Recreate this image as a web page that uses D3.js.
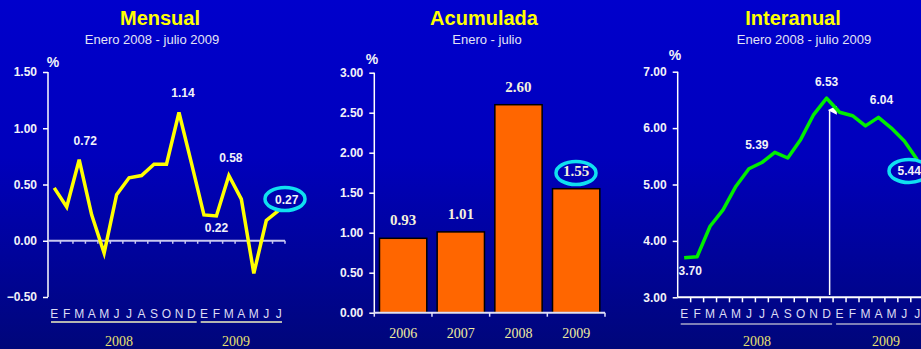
<!DOCTYPE html>
<html><head><meta charset="utf-8">
<script src="https://cdn.jsdelivr.net/npm/d3@7"></script>
<style>
html,body{margin:0;padding:0;background:#0000c0;}
svg{display:block;}
</style></head>
<body>
<svg id="c" width="921" height="349" font-family="Arial,'Liberation Sans',sans-serif"></svg>
<script>
// ---------- data ----------
const months = ["E","F","M","A","M","J","J","A","S","O","N","D","E","F","M","A","M","J","J"];
const mensual = [0.47,0.30,0.72,0.23,-0.11,0.41,0.56,0.58,0.68,0.68,1.14,0.69,0.23,0.22,0.58,0.37,-0.29,0.18,0.27];
const interanual = [3.70,3.72,4.26,4.55,4.97,5.28,5.39,5.57,5.47,5.80,6.24,6.53,6.28,6.22,6.04,6.19,6.00,5.77,5.44];
const accYears = ["2006","2007","2008","2009"];
const acumulada = [0.93,1.01,2.60,1.55];
const mensualTicks = [-0.5,0,0.5,1.0,1.5];
const acumTicks = [0,0.5,1.0,1.5,2.0,2.5,3.0];
const interTicks = [3,4,5,6,7];
const yearLabels = ["2008","2009"];
const mensualLabels = [{i:2,t:"0.72"},{i:10,t:"1.14"},{i:14,t:"0.58"},{i:13,t:"0.22"},{i:18,t:"0.27"}];
const interLabels = [{i:0,t:"3.70"},{i:6,t:"5.39"},{i:11,t:"6.53"},{i:15,t:"6.04"},{i:18,t:"5.44"}];

const SERIF = "'Liberation Serif','Times New Roman',serif";
const svg = d3.select("#c");
const defs = svg.append("defs");
const g = defs.append("linearGradient").attr("id","bg").attr("x1",0).attr("y1",0).attr("x2",0).attr("y2",1);
g.append("stop").attr("offset","0%").attr("stop-color","#0000cc");
g.append("stop").attr("offset","45%").attr("stop-color","#0000bc");
g.append("stop").attr("offset","100%").attr("stop-color","#00067a");
defs.append("marker").attr("id","arr").attr("viewBox","0 0 10 10").attr("refX",5).attr("refY",2)
  .attr("markerWidth",6).attr("markerHeight",6).attr("orient","auto-start-reverse")
  .append("path").attr("d","M0,10 L5,0 L10,10 Z").attr("fill","#ffffff");
svg.append("rect").attr("width",921).attr("height",349).attr("fill","url(#bg)");

const WHITE="#f2f2f8", LAV="#c8c8f0", YEL="#ffff00", YRCOL="#e8e070", CYAN="#10e0f0";

function titles(cx, title, sub, scx){
  svg.append("text").attr("x",cx).attr("y",25).attr("text-anchor","middle")
    .attr("font-size",20).attr("font-weight","bold").attr("fill",YEL).text(title);
  svg.append("text").attr("x",scx).attr("y",44).attr("text-anchor","middle")
    .attr("font-size",13).attr("fill","#e4e4f4").text(sub);
}
function yAxis(x0, y, ticks, pctX, pctY){
  const ax = svg.append("g").attr("transform",`translate(${x0},0)`)
    .call(d3.axisLeft(y).tickValues(ticks).tickFormat(d3.format(".2f")).tickSize(5).tickPadding(6));
  ax.attr("font-family",null).attr("font-size",null);
  ax.select(".domain").attr("stroke","#ffffff").attr("stroke-width",1.5).attr("d",`M0,${y.range()[0]}V${y.range()[1]}`);
  ax.selectAll(".tick line").attr("stroke","#ffffff").attr("stroke-width",1.5);
  ax.selectAll(".tick text").attr("fill",WHITE).attr("font-size",12).attr("font-weight","bold");
  svg.append("text").attr("x",pctX).attr("y",pctY).attr("text-anchor","middle")
    .attr("font-size",14).attr("font-weight","bold").attr("fill",WHITE).text("%");
}
function monthAxis(x, yLine, lineColor, tickLen, underline, ulColor, yrX){
  const r = x.range();
  svg.append("line").attr("x1",r[0]).attr("x2",r[1]).attr("y1",yLine).attr("y2",yLine)
    .attr("stroke",lineColor).attr("stroke-width",2);
  const bounds = d3.range(1, months.length+1).map(i => i<months.length ? x(i) : r[1]);
  svg.selectAll(null).data(bounds).enter().append("line")
    .attr("x1",d=>d).attr("x2",d=>d).attr("y1",yLine).attr("y2",yLine+tickLen)
    .attr("stroke",lineColor).attr("stroke-width",1.5);
  svg.selectAll(null).data(months).enter().append("text")
    .attr("x",(d,i)=>x(i)+x.bandwidth()/2).attr("y",318).attr("text-anchor","middle")
    .attr("font-size",12).attr("fill","#dcdcf4").text(d=>d);
  svg.append("line").attr("x1",x(0)+3).attr("x2",x(11)+x.bandwidth()-1).attr("y1",underline).attr("y2",underline)
    .attr("stroke",ulColor).attr("stroke-width",1.5);
  svg.append("line").attr("x1",x(12)+3).attr("x2",Math.min(921,x(18)+x.bandwidth()-3)).attr("y1",underline).attr("y2",underline)
    .attr("stroke",ulColor).attr("stroke-width",1.5);
  yearLabels.forEach((t,k)=>{
    svg.append("text").attr("x",yrX[k]).attr("y",346).attr("text-anchor","middle")
      .attr("font-family",SERIF).attr("font-size",14)
      .attr("fill",YRCOL).text(t);
  });
}
function ellipse(cx,cy){
  svg.append("ellipse").attr("cx",cx).attr("cy",cy).attr("rx",20).attr("ry",11.5)
    .attr("fill","none").attr("stroke",CYAN).attr("stroke-width",3.5);
}

// ---------- Panel 1: Mensual ----------
{
  const x = d3.scaleBand().domain(d3.range(months.length)).range([48,285]);
  const y = d3.scaleLinear().domain([-0.5,1.5]).range([297,72]);
  titles(160,"Mensual","Enero 2008 - julio 2009",152);
  yAxis(48,y,mensualTicks,53,67);
  monthAxis(x, y(0), LAV, 3, 322, "#f0f0c0", [119,236]);
  const line = d3.line().x((d,i)=>x(i)+x.bandwidth()/2).y(d=>y(d));
  svg.append("path").datum(mensual).attr("d",line).attr("fill","none")
    .attr("stroke",YEL).attr("stroke-width",3.5).attr("stroke-linejoin","miter");
  ellipse(285,199);
  const off = {2:[6,-15],10:[4,-16],14:[2,-14],13:[0,16],18:[8,-6]};
  mensualLabels.forEach(l=>{
    const o = off[l.i];
    svg.append("text").attr("x",x(l.i)+x.bandwidth()/2+o[0]).attr("y",y(mensual[l.i])+o[1])
      .attr("text-anchor","middle").attr("font-size",12).attr("font-weight","bold")
      .attr("fill",WHITE).text(l.t);
  });
}

// ---------- Panel 2: Acumulada ----------
{
  const x = d3.scaleBand().domain(accYears).range([374.3,605]).paddingInner(0.18).paddingOuter(0.09);
  const y = d3.scaleLinear().domain([0,3]).range([312.7,72.7]);
  titles(484,"Acumulada","Enero - julio",487);
  yAxis(374.3,y,acumTicks,372,64);
  svg.selectAll(null).data(acumulada).enter().append("rect")
    .attr("x",(d,i)=>x(accYears[i])).attr("width",x.bandwidth())
    .attr("y",d=>y(d)).attr("height",d=>y(0)-y(d))
    .attr("fill","#ff6600").attr("stroke","#000000").attr("stroke-width",1.5);
  svg.append("line").attr("x1",374.3).attr("x2",605).attr("y1",y(0)).attr("y2",y(0))
    .attr("stroke","#e0e0f8").attr("stroke-width",2);
  const step = x.step();
  d3.range(5).forEach(i=>{
    const xx = 374.3 + i*step;
    svg.append("line").attr("x1",xx).attr("x2",xx).attr("y1",y(0)).attr("y2",y(0)+4)
      .attr("stroke","#e0e0f8").attr("stroke-width",1.5);
  });
  svg.selectAll(null).data(accYears).enter().append("text")
    .attr("x",d=>x(d)+x.bandwidth()/2).attr("y",338).attr("text-anchor","middle")
    .attr("font-family",SERIF).attr("font-size",14)
    .attr("fill","#f0eca0").text(d=>d);
  ellipse(576,173);
  svg.selectAll(null).data(acumulada).enter().append("text")
    .attr("x",(d,i)=>x(accYears[i])+x.bandwidth()/2).attr("y",d=>y(d)-13)
    .attr("text-anchor","middle").attr("font-family",SERIF)
    .attr("font-size",15).attr("font-weight","bold").attr("fill","#f4f0dc").text(d=>d.toFixed(2));
}

// ---------- Panel 3: Interanual ----------
{
  const x = d3.scaleBand().domain(d3.range(months.length)).range([677.7,677.7+19*12.95]);
  const y = d3.scaleLinear().domain([3,7]).range([297.3,71.7]);
  titles(793,"Interanual","Enero 2008 - julio 2009",804);
  yAxis(677.7,y,interTicks,675,60);
  monthAxis(x, y(3), "#ffffff", 5, 324, "#a8a8c8", [757,886]);
  const ax = x(11)+x.bandwidth()/2+3;
  svg.append("line").attr("x1",ax).attr("x2",ax).attr("y1",295).attr("y2",y(interanual[11])+12)
    .attr("stroke","#ffffff").attr("stroke-width",1.5).attr("marker-end","url(#arr)");
  const line = d3.line().x((d,i)=>x(i)+x.bandwidth()/2).y(d=>y(d));
  svg.append("path").datum(interanual).attr("d",line).attr("fill","none")
    .attr("stroke","#00ee00").attr("stroke-width",3.5).attr("stroke-linejoin","round");
  ellipse(909,171);
  const off = {0:[6,17],6:[-5,-14],11:[0,-12],15:[3,-13],18:[-8,15]};
  interLabels.forEach(l=>{
    const o = off[l.i];
    svg.append("text").attr("x",x(l.i)+x.bandwidth()/2+o[0]).attr("y",y(interanual[l.i])+o[1])
      .attr("text-anchor","middle").attr("font-size",12).attr("font-weight","bold")
      .attr("fill",WHITE).text(l.t);
  });
}
</script>
</body></html>
